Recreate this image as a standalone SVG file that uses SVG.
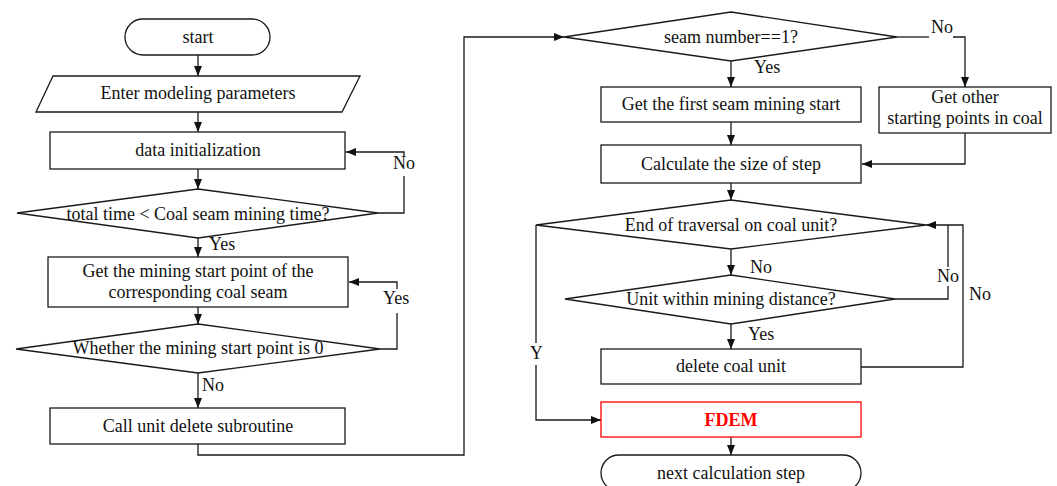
<svg xmlns="http://www.w3.org/2000/svg" width="1057" height="486" viewBox="0 0 1057 486">
  <style>
    .shape { fill: #ffffff; stroke: #1a1a1a; stroke-width: 1.3; }
    .hot { fill: #ffffff; stroke: #ff0000; stroke-width: 1.3; }
    .wire { fill: none; stroke: #1a1a1a; stroke-width: 1.3; }
    .arrow { marker-end: url(#head); }
    text { font-family: "Liberation Serif", "Times New Roman", serif; font-size: 18px; fill: #111111; }
    .c { text-anchor: middle; }
    .red { fill: #ff0000; font-weight: bold; }
  </style>
  <defs>
    <marker id="head" viewBox="0 0 10 8" refX="10" refY="4" markerWidth="10" markerHeight="8" markerUnits="userSpaceOnUse" orient="auto">
      <path d="M0,0 L10,4 L0,8 Z" fill="#111111"/>
    </marker>
  </defs>

  <rect width="1057" height="486" fill="#ffffff"/>

  <!-- connectors -->
  <g id="connectors">
    <path class="wire arrow" d="M198,55 V76"/>
    <path class="wire arrow" d="M198,112 V132"/>
    <path class="wire arrow" d="M198,169 V189"/>
    <path class="wire" d="M378,213 H404 V176"/>
    <path class="wire arrow" d="M404,157 V152 H346"/>
    <text x="393" y="169">No</text>
    <path class="wire arrow" d="M198,238 V257"/>
    <text x="209" y="250">Yes</text>
    <path class="wire" d="M380,349 H397 V313"/>
    <path class="wire arrow" d="M397,289 V282 H349"/>
    <text x="383" y="304">Yes</text>
    <path class="wire arrow" d="M198,307 V324"/>
    <path class="wire arrow" d="M198,373 V408"/>
    <text x="202" y="391">No</text>
    <path class="wire arrow" d="M198,444 V455 H464 V37 H564"/>

    <path class="wire" d="M897,37 H929"/>
    <text x="931" y="33">No</text>
    <path class="wire arrow" d="M953,37 H965 V87"/>
    <path class="wire arrow" d="M731,61 V87"/>
    <text x="754" y="73">Yes</text>
    <path class="wire arrow" d="M731,122 V145"/>
    <path class="wire arrow" d="M965,133 V164 H862"/>
    <path class="wire arrow" d="M731,183 V200"/>
    <path class="wire arrow" d="M731,249 V275"/>
    <text x="750" y="273">No</text>
    <path class="wire" d="M895,299 H948 V286"/>
    <path class="wire" d="M948,267 V225"/>
    <text x="937" y="282">No</text>
    <path class="wire arrow" d="M861,367 H963 V225 H926"/>
    <text x="969" y="300">No</text>
    <path class="wire arrow" d="M731,324 V349"/>
    <text x="748" y="340">Yes</text>
    <path class="wire" d="M536,225 V343"/>
    <path class="wire arrow" d="M536,365 V420 H601"/>
    <text x="530" y="359">Y</text>
    <path class="wire arrow" d="M731,437 V455"/>
  </g>

  <!-- left column -->
  <g id="start">
    <rect class="shape" x="125" y="19" width="145" height="36" rx="18"/>
    <text class="c" x="198" y="43">start</text>
  </g>
  <g id="enter-parameters">
    <polygon class="shape" points="53,76 360,76 342,112 36,112"/>
    <text class="c" x="198" y="99">Enter modeling parameters</text>
  </g>
  <g id="data-init">
    <rect class="shape" x="50" y="132" width="295" height="37"/>
    <text class="c" x="198" y="156">data initialization</text>
  </g>
  <g id="time-check">
    <polygon class="shape" points="198,189 378,213 198,238 17,213"/>
    <text class="c" x="198" y="220">total time &lt; Coal seam mining time?</text>
  </g>
  <g id="get-start-point">
    <rect class="shape" x="48" y="257" width="300" height="50"/>
    <text class="c" x="198" y="277">Get the mining start point of the</text>
    <text class="c" x="198" y="298">corresponding coal seam</text>
  </g>
  <g id="start-zero-check">
    <polygon class="shape" points="198,324 380,349 198,373 16,349"/>
    <text class="c" x="198" y="354">Whether the mining start point is 0</text>
  </g>
  <g id="call-delete">
    <rect class="shape" x="50" y="408" width="295" height="36"/>
    <text class="c" x="198" y="432">Call unit delete subroutine</text>
  </g>

  <!-- right column -->
  <g id="seam-check">
    <polygon class="shape" points="731,12 897,37 731,61 564,37"/>
    <text class="c" x="731" y="43">seam number==1?</text>
  </g>
  <g id="first-seam-start">
    <rect class="shape" x="601" y="87" width="260" height="35"/>
    <text class="c" x="731" y="110">Get the first seam mining start</text>
  </g>
  <g id="other-start-points">
    <rect class="shape" x="879" y="87" width="172" height="46"/>
    <text class="c" x="965" y="103">Get other</text>
    <text class="c" x="965" y="124">starting points in coal</text>
  </g>
  <g id="step-size">
    <rect class="shape" x="601" y="145" width="260" height="38"/>
    <text class="c" x="731" y="170">Calculate the size of step</text>
  </g>
  <g id="traversal-check">
    <polygon class="shape" points="731,200 926,225 731,249 536,225"/>
    <text class="c" x="731" y="231">End of traversal on coal unit?</text>
  </g>
  <g id="distance-check">
    <polygon class="shape" points="731,275 895,299 731,324 565,299"/>
    <text class="c" x="731" y="305">Unit within mining distance?</text>
  </g>
  <g id="delete-unit">
    <rect class="shape" x="601" y="349" width="260" height="35"/>
    <text class="c" x="731" y="372">delete coal unit</text>
  </g>
  <g id="fdem">
    <rect class="hot" x="601" y="402" width="260" height="35"/>
    <text class="c red" x="731" y="426">FDEM</text>
  </g>
  <g id="next-step">
    <rect class="shape" x="601" y="455" width="260" height="36" rx="18"/>
    <text class="c" x="731" y="479">next calculation step</text>
  </g>
</svg>
